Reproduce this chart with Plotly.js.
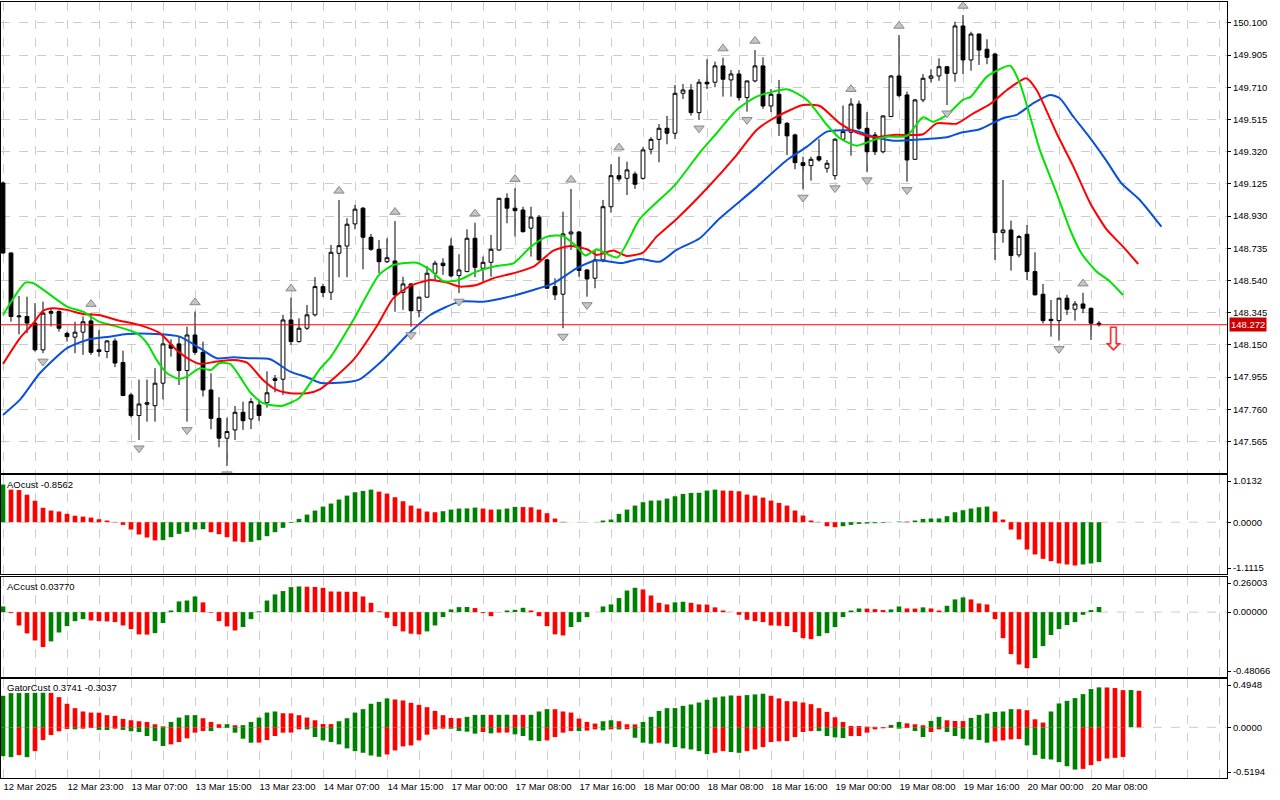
<!DOCTYPE html>
<html><head><meta charset="utf-8">
<script src="https://cdn.plot.ly/plotly-3.0.1.min.js"></script>
<style>html,body{margin:0;padding:0;background:#fff;}#chart{width:1280px;height:800px;}</style>
</head><body><div id="chart"></div>
<script>
// ---------------- DATA ----------------
const timeLabels = ['12 Mar 2025','12 Mar 23:00','13 Mar 07:00','13 Mar 15:00','13 Mar 23:00','14 Mar 07:00','14 Mar 15:00','17 Mar 00:00','17 Mar 08:00','17 Mar 16:00','18 Mar 00:00','18 Mar 08:00','18 Mar 16:00','19 Mar 00:00','19 Mar 08:00','19 Mar 16:00','20 Mar 00:00','20 Mar 08:00'];
const priceTicks = [147.565,147.760,147.955,148.150,148.345,148.540,148.735,148.930,149.125,149.320,149.515,149.710,149.905,150.100];

const open = [149.131,148.707,148.32,148.322,148.282,148.12,148.352,148.352,148.22,148.197,
148.227,148.295,148.12,148.11,148.174,148.043,147.847,147.722,147.79,147.782,
147.918,148.15,148.156,147.995,148.21,148.105,147.877,147.705,147.585,147.635,
147.742,147.701,147.786,147.80,147.945,147.942,148.301,148.17,148.251,148.332,
148.503,148.469,148.705,148.749,148.883,148.978,148.802,148.729,148.654,148.658,
148.468,148.519,148.357,148.439,148.584,148.645,148.749,148.57,148.594,148.796,
148.614,148.65,148.725,149.038,148.978,148.967,148.857,148.924,148.665,148.503,
148.457,148.822,148.834,148.604,148.554,148.665,148.987,149.175,149.159,149.185,
149.159,149.335,149.395,149.462,149.432,149.674,149.694,149.557,149.741,149.741,
149.84,149.755,149.791,149.648,149.749,149.84,149.597,149.668,149.492,149.422,
149.254,149.236,149.29,149.22,149.175,149.396,149.438,149.609,149.462,149.422,
149.32,149.533,149.779,149.664,149.274,149.634,149.765,149.779,149.835,149.795,
150.082,149.876,150.033,149.941,149.912,148.83,148.846,148.695,148.82,148.594,
148.457,148.305,148.297,148.433,148.366,148.398,148.372,148.281];
const high = [149.14,148.71,148.446,148.442,148.403,148.412,148.372,148.36,148.23,148.29,
148.322,148.342,148.24,148.18,148.19,148.115,147.86,147.94,147.94,148.009,
148.21,148.184,148.2,148.26,148.352,148.17,147.978,147.833,147.709,147.78,
147.806,147.827,147.81,147.99,147.968,148.332,148.436,148.311,148.392,148.56,
148.52,148.755,149.028,148.917,148.998,148.985,148.822,148.786,148.796,148.90,
148.563,148.523,148.442,148.628,148.66,148.675,148.796,148.699,148.85,148.89,
148.685,148.816,149.04,149.068,149.099,148.987,148.987,148.937,148.67,148.554,
148.957,149.095,148.84,148.61,148.725,149.028,149.244,149.29,149.26,149.2,
149.347,149.408,149.488,149.537,149.724,149.73,149.73,149.76,149.88,149.866,
149.89,149.815,149.815,149.75,149.936,149.892,149.70,149.755,149.50,149.43,
149.29,149.29,149.396,149.27,149.402,149.60,149.644,149.63,149.56,149.44,
149.54,149.785,150.027,149.684,149.64,149.79,149.82,149.886,149.84,150.108,
150.148,150.047,150.035,150.001,149.92,149.149,148.903,148.816,148.876,148.711,
148.519,148.422,148.433,148.453,148.416,148.466,148.375,148.295];
const low = [148.70,148.29,148.214,148.22,148.11,148.10,148.262,148.23,148.17,148.10,
148.09,148.09,148.079,148.07,148.015,147.84,147.71,147.574,147.685,147.685,
147.82,148.079,147.907,147.685,148.09,147.837,147.639,147.53,147.417,147.574,
147.635,147.64,147.69,147.77,147.863,147.847,148.15,148.164,148.24,148.322,
148.44,148.422,148.56,148.56,148.85,148.608,148.72,148.584,148.646,148.351,
148.362,148.26,148.317,148.435,148.543,148.574,148.56,148.463,148.59,148.56,
148.533,148.563,148.72,148.887,148.806,148.83,148.685,148.66,148.49,148.422,
148.251,148.725,148.563,148.442,148.493,148.65,148.951,149.139,149.058,149.095,
149.15,149.305,149.256,149.365,149.397,149.64,149.539,149.512,149.70,149.711,
149.654,149.654,149.63,149.563,149.74,149.58,149.56,149.415,149.30,149.214,
149.093,149.145,149.26,149.193,149.15,149.39,149.296,149.45,149.198,149.30,
149.31,149.53,149.65,149.139,149.27,149.62,149.74,149.75,149.603,149.744,
149.791,149.811,149.846,149.85,148.665,148.769,148.60,148.68,148.543,148.45,
148.28,148.20,148.176,148.331,148.297,148.342,148.18,148.261];
const close = [148.707,148.322,148.325,148.282,148.12,148.342,148.342,148.251,148.20,148.227,
148.29,148.105,148.11,148.174,148.04,147.843,147.722,147.792,147.80,147.918,
148.156,148.13,147.995,148.21,148.105,147.877,147.705,147.585,147.625,147.742,
147.691,147.806,147.722,147.86,147.935,148.301,148.17,148.251,148.332,148.503,
148.467,148.711,148.751,148.881,148.972,148.802,148.729,148.654,148.678,148.453,
148.519,148.357,148.439,148.584,148.645,148.63,148.568,148.604,148.796,148.62,
148.65,148.729,149.038,148.978,148.963,148.836,148.924,148.665,148.493,148.453,
148.822,148.834,148.601,148.549,148.665,148.987,149.175,149.155,149.21,149.123,
149.331,149.395,149.462,149.432,149.674,149.694,149.557,149.741,149.731,149.84,
149.759,149.791,149.648,149.749,149.84,149.597,149.668,149.492,149.416,149.254,
149.236,149.274,149.27,149.25,149.396,149.442,149.609,149.462,149.32,149.32,
149.537,149.779,149.66,149.27,149.634,149.765,149.779,149.835,149.795,150.082,
149.876,150.033,149.936,149.892,148.83,148.846,148.691,148.806,148.594,148.453,
148.297,148.297,148.433,148.366,148.398,148.372,148.281,148.272];

const fractalUpIdx = [11,24,36,42,49,59,64,71,77,90,94,106,112,120,135];
const fractalDnIdx = [5,17,23,28,51,57,70,73,87,93,100,104,108,113,118,132];

const jawX = [0,2.1,4.6,8,10.5,13.3,15.5,19.2,22.1,24.6,26.7,28.8,30.9,33.4,35.9,38,39.6,42,44.5,47.5,50.5,53.4,57.1,60,63,66.3,68.8,71.7,74.2,77.3,79.6,82.1,84.2,87.1,89.6,93.8,98,100.5,103,106.4,108.8,111.3,115,118,119.6,122.1,125,126.7,128.8,130.9,132.1,133.8,135.9,138,139.8,142.1,144.8];
const jawY = [147.726,147.817,147.978,148.13,148.18,148.2,148.216,148.216,148.2,148.13,148.069,148.075,148.069,148.063,147.988,147.954,147.921,147.92,147.94,148.059,148.209,148.331,148.412,148.412,148.439,148.483,148.523,148.614,148.663,148.646,148.671,148.654,148.725,148.796,148.917,149.089,149.27,149.351,149.442,149.448,149.411,149.387,149.396,149.408,149.434,149.456,149.523,149.543,149.614,149.664,149.644,149.532,149.402,149.26,149.129,149.028,148.866];
const teethX = [0,2.1,3.8,5,6.3,8,10,12,14.2,17,19.6,21.7,23.4,24.6,26.7,28.8,30.5,32.5,34.2,35.9,38,39.6,43.8,46.7,48.8,50.9,53.4,55.5,57.1,59.2,61.3,63.8,66.3,68.8,70.9,73,74.2,76.3,77.9,80,81.7,84.2,88,91.7,94.2,96.7,100,102.1,104.6,106.7,108.8,111.3,115,116.7,119.2,121.3,123.4,125.5,127.9,129.2,131.7,133.8,135.9,138,140,141.9];
const teethY = [148.035,148.19,148.281,148.357,148.372,148.362,148.337,148.331,148.301,148.271,148.221,148.119,148.059,148.035,148.049,148.059,148.042,147.938,147.877,147.857,147.857,147.881,148.059,148.261,148.433,148.507,148.543,148.527,148.503,148.513,148.554,148.584,148.624,148.721,148.749,148.729,148.695,148.722,148.689,148.709,148.806,148.913,149.099,149.3,149.452,149.532,149.603,149.597,149.492,149.436,149.408,149.422,149.426,149.492,149.49,149.553,149.609,149.694,149.765,149.694,149.432,149.23,149.008,148.846,148.745,148.64];
const lipsX = [0,2.8,3.8,8,10,12,14,16.7,18,19.2,20.5,22,23,24.6,26,27,28.4,29.6,31,32.5,34.8,37,38.4,39.6,41,43.8,47,48.8,51.7,53.4,55,57,59.2,61.7,63.8,66,68,70,71.7,72.8,74.2,76.8,79.6,83.4,84.2,87.2,89.2,91.7,94.2,98,100.5,103,104.6,106.7,108.8,110.5,113,115,116.3,118,120,121,123,125.9,127.1,128.4,129.6,131.7,133.4,134.8,136.7,138.4,140];
const lipsY = [148.331,148.527,148.523,148.382,148.351,148.291,148.265,148.221,148.16,148.059,147.978,147.944,147.958,148.009,147.998,148.039,148.035,147.958,147.857,147.797,147.78,147.827,147.918,148.003,148.079,148.301,148.574,148.634,148.648,148.604,148.537,148.543,148.594,148.628,148.644,148.745,148.806,148.81,148.745,148.691,148.728,148.68,148.913,149.089,149.13,149.32,149.432,149.573,149.654,149.698,149.634,149.482,149.402,149.357,149.391,149.411,149.416,149.529,149.502,149.543,149.634,149.654,149.775,149.841,149.735,149.532,149.331,149.069,148.846,148.705,148.594,148.533,148.452];

const aoValues = [0.81,0.70,0.69,0.59,0.46,0.31,0.25,0.23,0.18,0.14,
0.12,0.10,0.064,0.036,-0.006,-0.057,-0.157,-0.264,-0.329,-0.39,
-0.385,-0.321,-0.25,-0.207,-0.157,-0.150,-0.214,-0.257,-0.321,-0.414,
-0.429,-0.421,-0.386,-0.30,-0.214,-0.121,-0.014,0.071,0.164,0.25,
0.336,0.40,0.486,0.571,0.643,0.671,0.70,0.657,0.614,0.536,
0.45,0.357,0.293,0.229,0.214,0.236,0.271,0.293,0.296,0.314,
0.293,0.271,0.274,0.293,0.329,0.325,0.32,0.271,0.193,0.079,
0.007,0.002,-0.001,-0.003,0.002,0.036,0.057,0.179,0.271,0.357,
0.43,0.464,0.467,0.507,0.557,0.607,0.629,0.632,0.679,0.70,
0.679,0.675,0.664,0.593,0.571,0.529,0.464,0.414,0.357,0.25,
0.143,0.036,0.007,-0.086,-0.107,-0.086,-0.057,-0.036,-0.029,-0.021,
-0.014,0.0,0.014,0.012,0.036,0.071,0.079,0.081,0.129,0.214,
0.257,0.293,0.321,0.336,0.229,0.057,-0.157,-0.371,-0.586,-0.693,
-0.786,-0.836,-0.886,-0.907,-0.929,-0.907,-0.886,-0.857];
const acValues = [0.042,-0.007,-0.099,-0.158,-0.21,-0.259,-0.217,-0.151,-0.104,-0.067,
-0.052,-0.062,-0.067,-0.069,-0.074,-0.099,-0.126,-0.165,-0.167,-0.156,
-0.081,0.012,0.079,0.086,0.116,0.072,-0.005,-0.067,-0.106,-0.136,
-0.111,-0.052,0.005,0.086,0.131,0.156,0.185,0.19,0.188,0.186,
0.18,0.153,0.152,0.151,0.150,0.116,0.069,0.005,-0.042,-0.104,
-0.143,-0.160,-0.165,-0.143,-0.099,-0.037,0.02,0.037,0.038,0.03,
-0.007,-0.03,-0.002,0.012,0.017,0.032,0.012,-0.03,-0.104,-0.165,
-0.173,-0.111,-0.074,-0.037,0.0,0.042,0.057,0.104,0.160,0.18,
0.168,0.123,0.069,0.057,0.072,0.077,0.069,0.057,0.056,0.035,
0.012,0.002,-0.02,-0.057,-0.067,-0.074,-0.099,-0.101,-0.104,-0.148,
-0.193,-0.20,-0.178,-0.156,-0.111,-0.037,0.012,0.027,0.026,0.022,
0.015,0.02,0.042,0.027,0.026,0.035,0.027,0.012,0.047,0.094,
0.109,0.094,0.064,0.057,-0.052,-0.193,-0.311,-0.388,-0.415,-0.341,
-0.252,-0.170,-0.126,-0.096,-0.074,-0.02,0.015,0.0377];
const gatorUpper = [0.323,0.35,0.351,0.352,0.353,0.354,0.352,0.309,0.241,0.196,
0.162,0.151,0.150,0.124,0.117,0.086,0.072,0.062,0.055,0.031,
0.01,0.055,0.10,0.124,0.125,0.093,0.055,0.031,0.032,0.021,
0.022,0.055,0.10,0.151,0.162,0.144,0.143,0.124,0.10,0.072,
0.034,0.033,0.062,0.093,0.151,0.186,0.241,0.261,0.296,0.285,
0.275,0.251,0.23,0.206,0.168,0.124,0.096,0.093,0.107,0.127,
0.128,0.127,0.128,0.129,0.128,0.127,0.128,0.162,0.186,0.185,
0.162,0.151,0.089,0.055,0.038,0.062,0.072,0.062,0.031,0.030,
0.055,0.107,0.168,0.196,0.197,0.22,0.234,0.254,0.282,0.306,
0.316,0.326,0.323,0.33,0.337,0.344,0.323,0.296,0.268,0.265,
0.254,0.237,0.196,0.158,0.103,0.055,0.014,0.013,0.007,0.005,
0.003,0.024,0.055,0.041,0.031,0.021,0.065,0.107,0.072,0.065,
0.064,0.096,0.127,0.141,0.158,0.162,0.186,0.185,0.175,0.082,
0.048,0.162,0.244,0.271,0.299,0.34,0.392,0.409,0.408,0.402,
0.381,0.382,0.3741];
const gatorLower = [-0.296,-0.306,-0.285,-0.306,-0.244,-0.131,-0.079,-0.041,-0.017,-0.021,
-0.014,-0.007,-0.027,-0.028,-0.014,-0.027,-0.041,-0.048,-0.089,-0.141,
-0.192,-0.175,-0.151,-0.113,-0.055,-0.038,-0.039,-0.007,-0.008,-0.055,
-0.117,-0.158,-0.157,-0.131,-0.089,-0.055,-0.054,-0.021,-0.022,-0.10,
-0.134,-0.151,-0.175,-0.216,-0.244,-0.261,-0.289,-0.302,-0.278,-0.237,
-0.196,-0.186,-0.134,-0.076,-0.021,-0.014,-0.015,-0.038,-0.045,-0.065,
-0.048,-0.062,-0.055,-0.054,-0.072,-0.089,-0.134,-0.141,-0.134,-0.10,
-0.055,-0.038,-0.039,-0.034,-0.021,-0.031,-0.021,-0.022,-0.02,-0.107,
-0.158,-0.168,-0.158,-0.168,-0.203,-0.216,-0.227,-0.244,-0.275,-0.261,
-0.244,-0.254,-0.261,-0.244,-0.227,-0.203,-0.151,-0.144,-0.141,-0.10,
-0.048,-0.038,-0.039,-0.089,-0.103,-0.11,-0.09,-0.089,-0.055,-0.021,
-0.01,-0.007,-0.014,-0.007,-0.038,-0.10,-0.048,-0.021,-0.048,-0.089,
-0.117,-0.124,-0.131,-0.158,-0.144,-0.134,-0.124,-0.12,-0.186,-0.285,
-0.323,-0.33,-0.357,-0.399,-0.433,-0.426,-0.388,-0.347,-0.32,-0.313,
-0.3037];

const aoScale = [-1.1115, 1.0132];
const acScale = [-0.48066, 0.26003];
const gatorScale = [-0.5194, 0.4948];
const aoTickText = ['1.0132','0.0000','-1.1115'];
const acTickText = ['0.26003','0.00000','-0.48066'];
const gatorTickText = ['0.4948','0.0000','-0.5194'];
const aoLabel = 'AOcust -0.8562';
const acLabel = 'ACcust 0.03770';
const gatorLabel = 'GatorCust 0.3741 -0.3037';

// ---------------- STYLE / LAYOUT ----------------
const W = 1280, H = 800;
const GREEN = '#008000', RED = '#ff0000', GRID = '#cccccc';
const FONT = {family: '"Liberation Sans", Arial, sans-serif', size: 9.5, color: '#000'};
const px = x => x / W, py = y => 1 - y / H;

const N = open.length;
const idx = open.map((_, i) => i);

function changeColors(vals, useAbs) {
  return vals.map((v, i) => {
    if (i === 0) return GREEN;
    const a = useAbs ? Math.abs(v) : v;
    const b = useAbs ? Math.abs(vals[i - 1]) : vals[i - 1];
    return a > b ? GREEN : RED;
  });
}

const traces = [
  {type: 'candlestick', x: idx, open: open, high: high, low: low, close: close,
   xaxis: 'x', yaxis: 'y', whiskerwidth: 0,
   increasing: {line: {color: '#000', width: 1}, fillcolor: '#ffffff'},
   decreasing: {line: {color: '#000', width: 1}, fillcolor: '#000000'}},
  {type: 'scatter', mode: 'lines', x: jawX, y: jawY, xaxis: 'x', yaxis: 'y',
   line: {color: '#0a50dc', width: 2, shape: 'spline', smoothing: 0.6}},
  {type: 'scatter', mode: 'lines', x: teethX, y: teethY, xaxis: 'x', yaxis: 'y',
   line: {color: '#ff0000', width: 2, shape: 'spline', smoothing: 0.6}},
  {type: 'scatter', mode: 'lines', x: lipsX, y: lipsY, xaxis: 'x', yaxis: 'y',
   line: {color: '#00e400', width: 2, shape: 'spline', smoothing: 0.6}},
  {type: 'scatter', mode: 'markers', x: fractalUpIdx, y: fractalUpIdx.map(i => high[i] + 0.055),
   xaxis: 'x', yaxis: 'y',
   marker: {symbol: 'triangle-up', size: 9, color: '#c4c4c4', line: {color: '#888888', width: 1}}},
  {type: 'scatter', mode: 'markers', x: fractalDnIdx, y: fractalDnIdx.map(i => low[i] - 0.05),
   xaxis: 'x', yaxis: 'y',
   marker: {symbol: 'triangle-down', size: 9, color: '#c4c4c4', line: {color: '#888888', width: 1}}},
  {type: 'bar', x: idx, y: aoValues, xaxis: 'x2', yaxis: 'y2',
   marker: {color: changeColors(aoValues, false), line: {width: 0}}},
  {type: 'bar', x: idx, y: acValues, xaxis: 'x3', yaxis: 'y3',
   marker: {color: changeColors(acValues, false), line: {width: 0}}},
  {type: 'bar', x: gatorUpper.map((_, i) => i), y: gatorUpper, xaxis: 'x4', yaxis: 'y4',
   marker: {color: changeColors(gatorUpper, true), line: {width: 0}}},
  {type: 'bar', x: gatorLower.map((_, i) => i), y: gatorLower, xaxis: 'x4', yaxis: 'y4',
   marker: {color: changeColors(gatorLower, true), line: {width: 0}}}
];

// x axis: grid every 4 bars, label every 8 bars
const gridIdx = [];
for (let k = 0; k <= 152; k += 4) gridIdx.push(k);
const gridText = gridIdx.map(k => (k % 8 === 0 && k / 8 < timeLabels.length) ? timeLabels[k / 8] : '');

const xDomain = [px(1), px(1227)];
const xRange = [-0.25, 153];
function xAxis(anchor, showLabels) {
  return {domain: xDomain, range: xRange, anchor: anchor, type: 'linear',
    tickmode: 'array', tickvals: gridIdx, ticktext: gridText,
    showticklabels: showLabels, ticklabelposition: 'outside right',
    ticks: '', tickfont: FONT,
    showgrid: true, gridcolor: GRID, griddash: 'dash', gridwidth: 1,
    zeroline: false, showline: true, mirror: true, linecolor: '#000', linewidth: 1,
    rangeslider: {visible: false}, fixedrange: true};
}

function subY(domTopPx, domBotPx, scale, texts) {
  const span = scale[1] - scale[0];
  const off = 6 * span / (domBotPx - domTopPx);
  return {domain: [py(domBotPx), py(domTopPx)], range: [scale[0], scale[1]], anchor: null,
    side: 'right', tickmode: 'array', tickvals: [scale[1] - off, 0, scale[0] + off], ticktext: texts,
    ticks: 'outside', ticklen: 3, tickcolor: '#000', tickfont: FONT,
    showgrid: false, zeroline: false, showline: true, mirror: true, linecolor: '#000', linewidth: 1,
    fixedrange: true};
}

const yMain = {domain: [py(473), py(2)], range: [147.374, 150.227], side: 'right',
  tickmode: 'array', tickvals: priceTicks, ticktext: priceTicks.map(v => v.toFixed(3)),
  ticks: 'outside', ticklen: 3, tickcolor: '#000', tickfont: FONT,
  showgrid: true, gridcolor: GRID, griddash: 'dash', gridwidth: 1,
  zeroline: false, showline: true, mirror: true, linecolor: '#000', linewidth: 1, anchor: 'x', fixedrange: true};

const y2 = subY(475, 574, aoScale, aoTickText); y2.anchor = 'x2';
const y3 = subY(577, 677, acScale, acTickText); y3.anchor = 'x3';
const y4 = subY(679, 778, gatorScale, gatorTickText); y4.anchor = 'x4';

const lastClose = close[N - 1];

const zeroLine = (xr, yr) => ({type: 'line', xref: xr + ' domain', yref: yr, x0: 0, x1: 1, y0: 0, y1: 0,
  line: {color: GRID, width: 1, dash: 'dash'}, layer: 'below'});

const layout = {
  width: W, height: H, margin: {l: 0, r: 0, t: 0, b: 0, pad: 0},
  paper_bgcolor: '#ffffff', plot_bgcolor: '#ffffff', showlegend: false,
  hovermode: false, dragmode: false, barmode: 'relative', bargap: 0.42, boxgap: 0.32,
  font: FONT,
  xaxis: xAxis('y', false), xaxis2: xAxis('y2', false), xaxis3: xAxis('y3', false), xaxis4: xAxis('y4', true),
  yaxis: yMain, yaxis2: y2, yaxis3: y3, yaxis4: y4,
  shapes: [
    zeroLine('x2', 'y2'), zeroLine('x3', 'y3'), zeroLine('x4', 'y4'),
    {type: 'line', xref: 'x domain', yref: 'y', x0: 0, x1: 1, y0: lastClose, y1: lastClose,
     line: {color: '#ff0000', width: 1}}
  ],
  annotations: [
    {xref: 'paper', yref: 'paper', x: px(5), y: py(484), xanchor: 'left', yanchor: 'middle',
     text: aoLabel, showarrow: false, font: FONT},
    {xref: 'paper', yref: 'paper', x: px(5), y: py(586), xanchor: 'left', yanchor: 'middle',
     text: acLabel, showarrow: false, font: FONT},
    {xref: 'paper', yref: 'paper', x: px(5), y: py(687), xanchor: 'left', yanchor: 'middle',
     text: gatorLabel, showarrow: false, font: FONT},
    {xref: 'paper', yref: 'y', x: px(1229), y: lastClose, xanchor: 'left', yanchor: 'middle',
     text: lastClose.toFixed(3), showarrow: false, bgcolor: '#cc0000', borderpad: 1,
     font: {family: FONT.family, size: 9.5, color: '#ffffff'}},
    {xref: 'x', yref: 'y', x: N - 1 + 1.75, y: low[N - 1] - 0.075, xanchor: 'center', yanchor: 'middle',
     text: '\u21E9', showarrow: false, font: {family: '"DejaVu Sans", sans-serif', size: 32, color: '#ff2a2a'}}
  ]
};

Plotly.newPlot('chart', traces, layout, {staticPlot: true, displayModeBar: false});
</script>
</body></html>
